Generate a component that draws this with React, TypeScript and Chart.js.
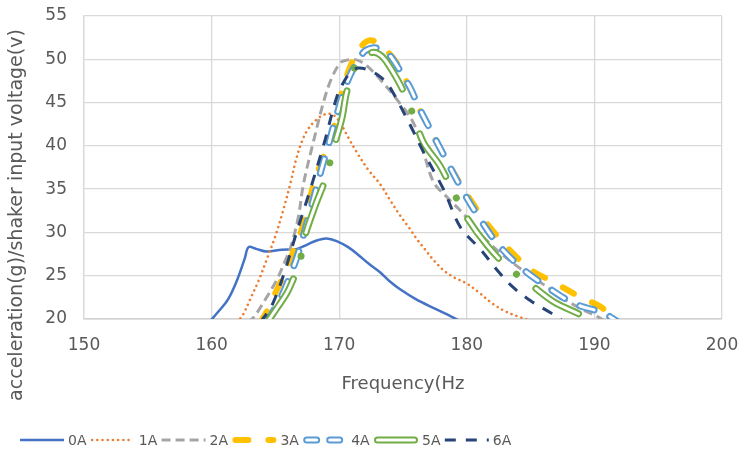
import React, { useEffect, useRef } from "react";
import { Chart, registerables } from "chart.js";

Chart.register(...registerables);

// ---------- data ----------
const SERIES_NAMES = ["0A", "1A", "2A", "3A", "4A", "5A", "6A"];
const X_TICKS = [150, 160, 170, 180, 190, 200];
const Y_TICKS = [20, 25, 30, 35, 40, 45, 50, 55];
const X_TITLE = "Frequency(Hz";
const Y_TITLE = "acceleration(g)/shaker input voltage(v)";

const F_0A = [159.8, 160.5, 161.3, 162, 162.6, 162.9, 163.5, 164.3, 165.5, 166.7, 167.5, 168.3, 169, 169.8, 170.7, 171.5, 172.3, 173.2, 174, 174.8, 176, 177.5, 178.5, 179.3, 180];
const V_0A = [19.6, 20.8, 22.3, 24.5, 27, 28.3, 28.1, 27.8, 28, 28.1, 28.6, 29.1, 29.3, 29.0, 28.3, 27.4, 26.4, 25.4, 24.3, 23.4, 22.3, 21.2, 20.5, 19.9, 19.5];

const F_1A = [162, 162.5, 163, 163.7, 164.3, 165, 165.6, 166.2, 166.6, 167, 167.5, 168.2, 169, 169.6, 170.1, 170.7, 171.4, 172.3, 173.2, 174, 174.8, 175.5, 176.1, 176.8, 177.4, 178.2, 179, 180, 181, 182, 183, 184, 185];
const V_1A = [19.6, 20.6, 22.2, 24.5, 26.8, 29.6, 32.5, 35.8, 38.3, 40.2, 41.8, 43, 43.7, 43.5, 42.6, 41, 39.2, 37.2, 35.6, 33.7, 31.9, 30.5, 29.2, 27.9, 26.8, 25.6, 24.8, 24.1, 23, 21.8, 20.9, 20.3, 19.8];

const F_2A = [162.8, 163.3, 164.1, 165.1, 165.7, 166.2, 166.8, 167.2, 168, 168.8, 169.4, 170.1, 170.6, 171.1, 171.6, 172.2, 173.2, 174.5, 175.8, 176.6, 177.4, 178.5, 179.7, 181, 182.5, 184.4, 186, 187.3, 188.8, 190.2, 190.8];
const V_2A = [19.6, 20.2, 22, 24.5, 26.5, 28.3, 31.8, 35.6, 40.6, 45.2, 47.8, 49.6, 49.9, 50, 49.8, 49.2, 47.7, 45.4, 42.7, 39.3, 35.8, 34, 32.2, 29.9, 27.8, 25.6, 24, 22.6, 21.3, 20.3, 19.8];

const F_3A = [163.8, 164.3, 165, 165.6, 166.4, 167.2, 168, 168.7, 169.3, 169.8, 170.3, 170.9, 171.5, 172, 172.4, 172.9, 173.5, 174.5, 175.8, 176.4, 177.9, 178.8, 179.5, 180.5, 181.6, 182.6, 183.6, 185, 187, 188.8, 190.5, 191.3, 191.8];
const V_3A = [19.6, 20.8, 23, 24.9, 27.8, 31, 35.6, 38.5, 40.6, 43.5, 46.7, 49.3, 51, 51.9, 52.2, 52, 51.3, 49.6, 45.8, 43.9, 39.7, 37.3, 35.6, 33.3, 31, 29.2, 27.6, 25.7, 24.1, 22.6, 21.4, 20.3, 19.8];

const F_4A = [164.2, 164.6, 165.1, 165.6, 166.2, 166.7, 167.3, 168.3, 168.7, 169.1, 169.5, 169.8, 170.3, 170.9, 171.9, 172.6, 173.2, 173.7, 174.2, 175, 175.6, 176.2, 177.1, 178.2, 179.8, 181.1, 182.4, 184.2, 186.3, 188.4, 190.7, 191.4, 191.8];
const V_4A = [19.6, 20.3, 21.7, 23, 25.2, 27.2, 30.2, 35.6, 37.8, 39.8, 42, 43.5, 46, 48.3, 50.8, 51.3, 51.2, 50.8, 50, 48.1, 46.6, 44.6, 42, 38.9, 34.5, 31.4, 28.7, 26, 23.7, 21.8, 20.7, 20.1, 19.7];

const F_5A = [164.4, 165, 165.9, 166.4, 166.9, 167.2, 168.1, 169, 169.5, 170.2, 170.6, 171.4, 172, 172.7, 173.3, 173.8, 174.8, 175.8, 176.6, 177.9, 179, 180.1, 181.6, 183.2, 185, 186.8, 188.9, 189.5];
const V_5A = [19.7, 21, 23, 24.6, 26.4, 29, 33, 36.5, 39.5, 43.1, 46.3, 49.6, 50.4, 50.8, 50.4, 49.5, 47, 43.6, 40.4, 37.7, 34.5, 31.5, 28.5, 26, 24, 22, 20.5, 19.9];

const F_6A = [163.8, 164.3, 164.8, 165.6, 166.7, 167.7, 168.8, 169.8, 170.4, 170.9, 171.5, 172.4, 173.2, 173.7, 174.2, 175.6, 176.6, 178.2, 179.5, 181.1, 182.4, 183.6, 185, 186.6, 187.4];
const V_6A = [19.6, 20.6, 21.8, 24.9, 30.2, 34.8, 40.2, 45.6, 47.5, 48.5, 49, 48.7, 48, 47.3, 46.2, 42.3, 39.3, 34.9, 30.6, 28, 25.6, 23.7, 22.1, 20.7, 19.9];

const FREQS = [F_0A, F_1A, F_2A, F_3A, F_4A, F_5A, F_6A];
const VALUES = [V_0A, V_1A, V_2A, V_3A, V_4A, V_5A, V_6A];

// ---------- styles ----------
type Style = {
  color: string;
  width: number;
  dash: number[];
  cap: CanvasLineCap;
  inner?: { width: number; dash: number[] };
};
const STYLES: Style[] = [
  { color: "#4472C4", width: 2.5, dash: [], cap: "butt" },
  { color: "#ED7D31", width: 2.6, dash: [0.01, 5.2], cap: "round" },
  { color: "#A5A5A5", width: 3, dash: [9, 5], cap: "butt" },
  { color: "#FFC000", width: 6, dash: [13, 20], cap: "round" },
  { color: "#5B9BD5", width: 7, dash: [15, 17], cap: "round", inner: { width: 3, dash: [15, 17] } },
  { color: "#70AD47", width: 7, dash: [50, 24, 0.01, 24], cap: "round", inner: { width: 3, dash: [50, 48.01] } },
  { color: "#264478", width: 3, dash: [11, 10], cap: "butt" },
];

const FONT = "'DejaVu Sans', sans-serif";
const TEXT_COLOR = "#595959";

const legendPlugin = {
  id: "excelLegend",
  afterDraw(chart: any) {
    const ctx = chart.ctx as CanvasRenderingContext2D;
    const y = 440;
    ctx.save();
    ctx.font = `14px ${FONT}`;
    ctx.textBaseline = "middle";
    ctx.fillStyle = TEXT_COLOR;
    SERIES_NAMES.forEach((name, i) => {
      const st = STYLES[i];
      const x0 = 20 + i * 70.8;
      const len = 44;
      const capPad = st.cap === "round" ? st.width / 2 : 0;
      const stroke = (color: string, w: number, dash: number[]) => {
        ctx.beginPath();
        ctx.strokeStyle = color;
        ctx.lineWidth = w;
        ctx.lineCap = st.cap;
        ctx.setLineDash(dash);
        ctx.moveTo(x0 + capPad, y);
        ctx.lineTo(x0 + len - capPad, y);
        ctx.stroke();
      };
      if (i === 5) {
        stroke(st.color, st.width, []);
        stroke("#FFFFFF", st.inner!.width, []);
      } else if (i === 4) {
        stroke(st.color, st.width, [10, 13]);
        stroke("#FFFFFF", st.inner!.width, [10, 13]);
      } else {
        stroke(st.color, st.width, st.dash);
      }
      ctx.setLineDash([]);
      ctx.fillText(name, x0 + len + 4, y + 1);
    });

    // vertical axis title
    ctx.save();
    ctx.translate(17, 215);
    ctx.rotate(-Math.PI / 2);
    ctx.font = `19px ${FONT}`;
    ctx.textAlign = "center";
    ctx.textBaseline = "middle";
    ctx.fillStyle = TEXT_COLOR;
    ctx.fillText(Y_TITLE, 0, 0);
    ctx.restore();

    ctx.restore();
  },
};

export default function App() {
  const ref = useRef<HTMLCanvasElement | null>(null);

  useEffect(() => {
    if (!ref.current) return;
    const datasets: any[] = [];
    SERIES_NAMES.forEach((name, i) => {
      const st = STYLES[i];
      const pts = FREQS[i].map((f, k) => ({ x: f, y: VALUES[i][k] }));
      datasets.push({
        label: name,
        data: pts,
        borderColor: st.color,
        backgroundColor: st.color,
        borderWidth: st.width,
        borderDash: st.dash,
        borderCapStyle: st.cap,
        borderJoinStyle: "round",
        pointRadius: 0,
        tension: 0.35,
        fill: false,
        order: (7 - i) * 2,
      });
      if (st.inner) {
        datasets.push({
          label: name + "_inner",
          data: pts,
          borderColor: "#FFFFFF",
          borderWidth: st.inner.width,
          borderDash: st.inner.dash,
          borderCapStyle: st.cap,
          borderJoinStyle: "round",
          pointRadius: 0,
          tension: 0.35,
          fill: false,
          order: (7 - i) * 2 - 1,
        });
      }
    });

    const chart = new Chart(ref.current, {
      type: "line",
      data: { datasets },
      plugins: [legendPlugin],
      options: {
        animation: false,
        responsive: true,
        maintainAspectRatio: false,
        layout: { padding: { left: 4, top: 16, right: 20, bottom: 56 } },
        plugins: { legend: { display: false }, tooltip: { enabled: false } },
        scales: {
          x: {
            type: "linear",
            min: X_TICKS[0],
            max: X_TICKS[X_TICKS.length - 1],
            afterBuildTicks: (scale: any) => {
              scale.ticks = X_TICKS.map((v) => ({ value: v }));
            },
            afterFit: (scale: any) => {
              scale.height = 81;
              scale.paddingLeft = 0;
              scale.paddingRight = 0;
            },
            grid: { color: "#D9D9D9", lineWidth: 1.3, drawTicks: false },
            border: { color: "#D0D0D0", width: 1.5 },
            ticks: { color: TEXT_COLOR, font: { family: FONT, size: 17 }, padding: 16, maxRotation: 0 },
            title: {
              display: true,
              text: X_TITLE,
              color: TEXT_COLOR,
              font: { family: FONT, size: 18 },
              padding: { top: 4, bottom: 5 },
            },
          },
          y: {
            type: "linear",
            min: Y_TICKS[0],
            max: Y_TICKS[Y_TICKS.length - 1],
            afterBuildTicks: (scale: any) => {
              scale.ticks = Y_TICKS.map((v) => ({ value: v }));
            },
            afterFit: (scale: any) => {
              scale.width = 80;
              scale.paddingTop = 0;
              scale.paddingBottom = 0;
            },
            grid: { color: "#D9D9D9", lineWidth: 1.3, drawTicks: false },
            border: { color: "#D9D9D9", width: 1.3 },
            ticks: { color: TEXT_COLOR, font: { family: FONT, size: 17 }, padding: 17 },
            title: { display: false },
          },
        },
      },
    } as any);
    return () => chart.destroy();
  }, []);

  return (
    <div style={{ position: "absolute", left: 0, top: 0, width: 742, height: 456, background: "#fff" }}>
      <canvas ref={ref} />
    </div>
  );
}
